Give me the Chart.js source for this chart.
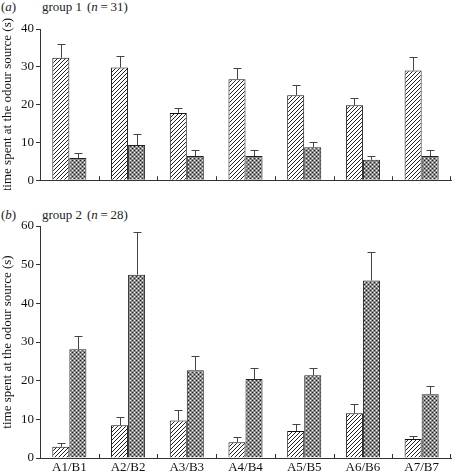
<!DOCTYPE html>
<html>
<head>
<meta charset="utf-8">
<script src="https://cdn.jsdelivr.net/npm/chart.js@4/dist/chart.umd.min.js"></script>
<style>
  body { margin: 0; background: #fff; }
  #wrap { position: relative; width: 452px; height: 475px; font-family: "Liberation Serif", "DejaVu Serif", serif; color: #222; }
  canvas { position: absolute; left: 0; }
  .lbl { position: absolute; font-size: 13px; line-height: 14px; white-space: nowrap; }
</style>
</head>
<body>
<div id="wrap">
  <span class="lbl" style="left:1px;top:0px">(<i>a</i>)</span>
  <span class="lbl" style="left:42px;top:0px">group 1</span>
  <span class="lbl" style="left:87px;top:0px">(<i>n</i>&thinsp;=&thinsp;31)</span>
  <canvas id="chartA" width="452" height="190" style="top:0"></canvas>
  <span class="lbl" style="left:1px;top:208px">(<i>b</i>)</span>
  <span class="lbl" style="left:42px;top:208px">group 2</span>
  <span class="lbl" style="left:87px;top:208px">(<i>n</i>&thinsp;=&thinsp;28)</span>
  <canvas id="chartB" width="452" height="275" style="top:200px"></canvas>
</div>
<script>
const categories = ['A1/B1', 'A2/B2', 'A3/B3', 'A4/B4', 'A5/B5', 'A6/B6', 'A7/B7'];

// group 1 (n = 31)
const group1A = [32.4, 29.8, 17.8, 26.7, 22.5, 19.8, 29.0];
const group1AErr = [3.6, 3.1, 1.4, 2.9, 2.8, 1.9, 3.6];
const group1B = [5.9, 9.3, 6.4, 6.4, 8.7, 5.4, 6.4];
const group1BErr = [1.2, 3.0, 1.6, 1.6, 1.5, 1.0, 1.5];

// group 2 (n = 28)
const group2A = [2.9, 8.5, 9.7, 4.1, 7.0, 11.6, 4.9];
const group2AErr = [0.9, 2.1, 2.8, 1.3, 1.9, 2.3, 0.8];
const group2B = [28.1, 47.4, 22.7, 20.4, 21.4, 45.9, 16.5];
const group2BErr = [3.4, 11.0, 3.7, 2.8, 2.0, 7.3, 2.0];

const yTicks1 = [0, 10, 20, 30, 40];
const yTicks2 = [0, 10, 20, 30, 40, 50, 60];

const fontFamily = '"Liberation Serif", "DejaVu Serif", serif';
const axisColor = '#333';

function hatchPattern() {
  const c = document.createElement('canvas');
  c.width = 4; c.height = 4;
  const ctx = c.getContext('2d');
  ctx.fillStyle = '#fff';
  ctx.fillRect(0, 0, 4, 4);
  ctx.fillStyle = '#222';
  for (let x = 0; x < 4; x++) {
    ctx.fillRect(x, 3 - x, 1, 1);
  }
  return ctx.createPattern(c, 'repeat');
}

function dotPattern() {
  const c = document.createElement('canvas');
  c.width = 4; c.height = 4;
  const ctx = c.getContext('2d');
  ctx.fillStyle = '#8a8a8a';
  ctx.fillRect(0, 0, 4, 4);
  ctx.fillStyle = '#222';
  ctx.fillRect(0, 0, 1, 1);
  ctx.fillRect(2, 2, 1, 1);
  ctx.fillStyle = '#f4f4f4';
  ctx.fillRect(2, 0, 1, 1);
  ctx.fillRect(0, 2, 1, 1);
  return ctx.createPattern(c, 'repeat');
}

// error bars (upper only) and inward category ticks
const extrasPlugin = {
  id: 'extras',
  afterDatasetsDraw(chart) {
    const ctx = chart.ctx;
    const yScale = chart.scales.y;
    ctx.save();
    ctx.strokeStyle = '#444';
    ctx.lineWidth = 1;
    chart.data.datasets.forEach((ds, i) => {
      const meta = chart.getDatasetMeta(i);
      meta.data.forEach((bar, j) => {
        const x = Math.round(bar.x) + 0.5;
        const yTop = Math.round(yScale.getPixelForValue(ds.data[j] + ds.errors[j])) + 0.5;
        ctx.beginPath();
        ctx.moveTo(x, bar.y);
        ctx.lineTo(x, yTop);
        ctx.moveTo(x - 4, yTop);
        ctx.lineTo(x + 4, yTop);
        ctx.stroke();
      });
    });
    const xScale = chart.scales.x;
    const bottom = chart.chartArea.bottom;
    ctx.strokeStyle = axisColor;
    for (let i = 0; i < chart.data.labels.length; i++) {
      const edge = Math.round((xScale.getPixelForValue(i) + xScale.getPixelForValue(i + 1)) / 2);
      const x = i === chart.data.labels.length - 1 ? chart.chartArea.right - 0.5 : edge + 0.5;
      ctx.beginPath();
      ctx.moveTo(x, bottom);
      ctx.lineTo(x, bottom - 4);
      ctx.stroke();
    }
    ctx.restore();
  }
};

function makeChart(id, a, aErr, b, bErr, yMax, ticks, showLabels, padTop, xHeight) {
  return new Chart(document.getElementById(id), {
    type: 'bar',
    data: {
      labels: categories,
      datasets: [
        { data: a, errors: aErr, backgroundColor: hatchPattern(), borderColor: '#111', borderWidth: 1 },
        { data: b, errors: bErr, backgroundColor: dotPattern(), borderColor: '#222', borderWidth: 1 }
      ]
    },
    options: {
      responsive: false,
      animation: false,
      devicePixelRatio: 1,
      layout: { padding: { top: padTop, right: 1, left: 0, bottom: 0 } },
      datasets: { bar: { categoryPercentage: 0.58, barPercentage: 1.0 } },
      plugins: { legend: { display: false }, tooltip: { enabled: false } },
      scales: {
        x: {
          grid: { display: false, drawTicks: false },
          border: { display: true, color: axisColor, width: 1 },
          ticks: { display: showLabels, color: '#111', padding: 2, font: { family: fontFamily, size: 13 } },
          afterFit(scale) { scale.height = xHeight; }
        },
        y: {
          min: 0,
          max: yMax,
          afterBuildTicks(scale) { scale.ticks = ticks.map(v => ({ value: v })); },
          grid: { display: true, drawOnChartArea: false, drawTicks: true, tickLength: 4, color: axisColor },
          border: { display: true, color: axisColor, width: 1 },
          ticks: { color: '#111', padding: 2, font: { family: fontFamily, size: 13 } },
          title: {
            display: true,
            text: 'time spent at the odour source (s)',
            color: '#111',
            padding: { top: 0, bottom: 0 },
            font: { family: fontFamily, size: 13 }
          },
          afterFit(scale) { scale.width = 40; }
        }
      }
    },
    plugins: [extrasPlugin]
  });
}

makeChart('chartA', group1A, group1AErr, group1B, group1BErr, 40, yTicks1, false, 29, 7);
makeChart('chartB', group2A, group2AErr, group2B, group2BErr, 60, yTicks2, true, 26, 17);
</script>
</body>
</html>
